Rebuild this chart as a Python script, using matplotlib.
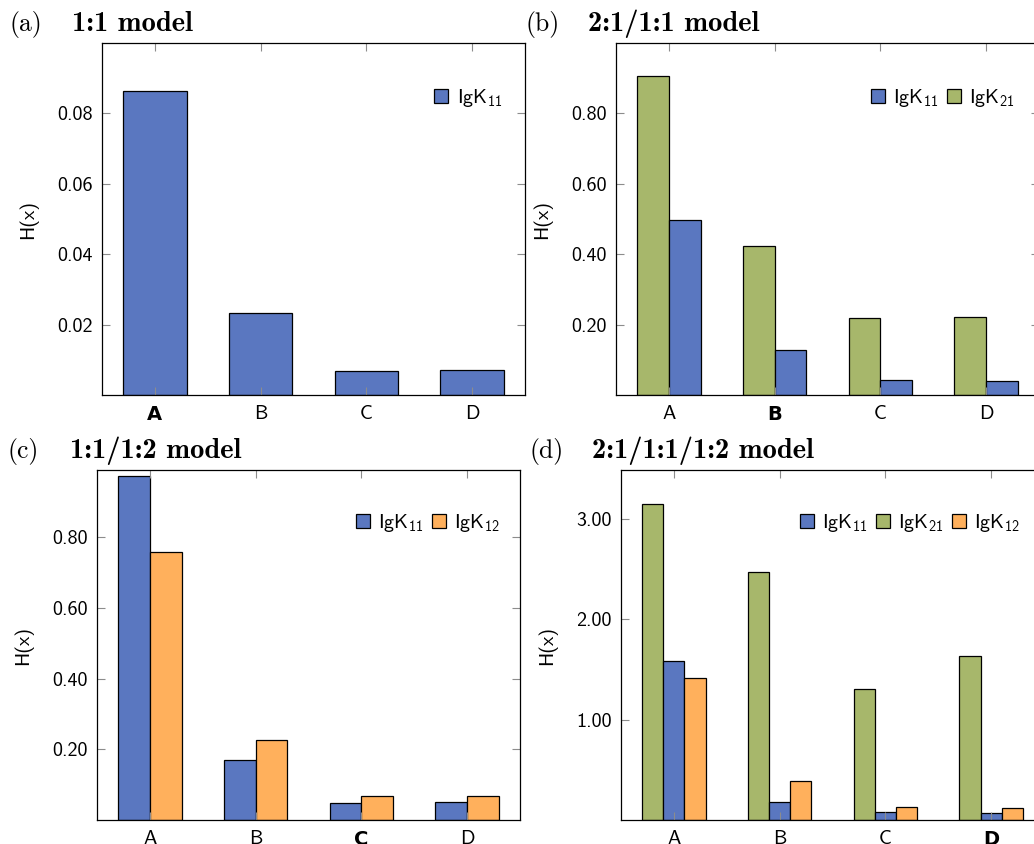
import numpy as np
import matplotlib
matplotlib.use("Agg")
import matplotlib.pyplot as plt

plt.rcParams["font.family"] = "cmss10"
plt.rcParams["mathtext.fontset"] = "custom"
plt.rcParams["mathtext.rm"] = "cmss10"
plt.rcParams["mathtext.it"] = "cmss10"
plt.rcParams["axes.formatter.use_mathtext"] = True

cats = ["A", "B", "C", "D"]
a_k11 = [0.0865, 0.0233, 0.0068, 0.0071]
b_k11 = [0.496, 0.128, 0.043, 0.040]
b_k21 = [0.905, 0.423, 0.218, 0.221]
c_k11 = [0.972, 0.169, 0.048, 0.051]
c_k12 = [0.758, 0.225, 0.068, 0.068]
d_k11 = [1.59, 0.18, 0.08, 0.07]
d_k21 = [3.15, 2.47, 1.31, 1.64]
d_k12 = [1.42, 0.39, 0.13, 0.12]

blue = "#5A77C0"
green = "#A7B76B"
orange = "#FFB05C"

lab11 = "IgK$_{11}$"
lab21 = "IgK$_{21}$"
lab12 = "IgK$_{12}$"

W, H = 1034, 844
fig = plt.figure(figsize=(W / 100, H / 100), dpi=100)


def px_axes(left, top, right, bottom):
    return fig.add_axes([left / W, 1 - bottom / H, (right - left) / W, (bottom - top) / H])


def style(ax, ymax, yticks, fmt, bold_idx, leg_x, leg_y, handles):
    x = np.arange(len(cats))
    ax.set_xlim(-0.5, 3.5)
    ax.set_ylim(0, ymax)
    ax.set_xticks(x)
    ax.set_xticklabels(cats)
    ax.set_yticks(yticks)
    ax.set_yticklabels([fmt.format(v) for v in yticks])
    ax.tick_params(direction="in", length=6, width=0.8, color="0.55",
                   labelsize=14.5, top=True, right=True)
    ax.tick_params(axis="y", pad=6.5)
    ax.tick_params(axis="x", pad=7)
    lab = ax.get_xticklabels()[bold_idx]
    lab.set_family("DejaVu Sans")
    lab.set_fontweight("bold")
    lab.set_fontsize(14)
    for s in ax.spines.values():
        s.set_linewidth(0.9)
    ax.set_ylabel("H(x)", fontsize=14.5)
    ax.yaxis.set_label_coords(-0.15, 0.5)
    ax.legend(handles=handles, loc="center right", bbox_to_anchor=(leg_x, leg_y),
              ncol=len(handles), frameon=False, fontsize=14.5, borderpad=0,
              borderaxespad=0, handlelength=0.7, handleheight=0.7,
              handletextpad=0.4, columnspacing=0.4)


def title(x, y, tag, name):
    fig.text(x / W, 1 - y / H, tag, family="cmr10", fontsize=18.5, va="baseline")
    fig.text((x + 62) / W, 1 - y / H, name, family="cmb10", fontsize=20.5, va="baseline")


kw = dict(edgecolor="black", linewidth=0.9)
x = np.arange(len(cats))

# (a)
ax = px_axes(102, 43, 525, 395)
h1 = ax.bar(x, a_k11, 0.6, color=blue, label=lab11, **kw)
style(ax, 0.1, [0.02, 0.04, 0.06, 0.08], "{:.2f}", 0, 0.946, 0.844, [h1])
title(10, 31, "(a)", "1:1 model")

# (b)
ax = px_axes(616, 43, 1039, 395)
g = ax.bar(x - 0.15, b_k21, 0.3, color=green, label=lab21, **kw)
b = ax.bar(x + 0.15, b_k11, 0.3, color=blue, label=lab11, **kw)
style(ax, 1.0, [0.2, 0.4, 0.6, 0.8], "{:.2f}", 1, 0.943, 0.844, [b, g])
title(526, 31, "(b)", "2:1/1:1 model")

# (c)
ax = px_axes(97, 470, 520, 820)
b = ax.bar(x - 0.15, c_k11, 0.3, color=blue, label=lab11, **kw)
o = ax.bar(x + 0.15, c_k12, 0.3, color=orange, label=lab12, **kw)
style(ax, 0.99, [0.2, 0.4, 0.6, 0.8], "{:.2f}", 2, 0.953, 0.849, [b, o])
title(8, 458, "(c)", "1:1/1:2 model")

# (d)
ax = px_axes(621, 470, 1044, 820)
g = ax.bar(x - 0.2, d_k21, 0.2, color=green, label=lab21, **kw)
b = ax.bar(x, d_k11, 0.2, color=blue, label=lab11, **kw)
o = ax.bar(x + 0.2, d_k12, 0.2, color=orange, label=lab12, **kw)
style(ax, 3.49, [1, 2, 3], "{:.2f}", 3, 0.943, 0.849, [b, g, o])
title(530, 458, "(d)", "2:1/1:1/1:2 model")

fig.savefig("out.png", dpi=100)
